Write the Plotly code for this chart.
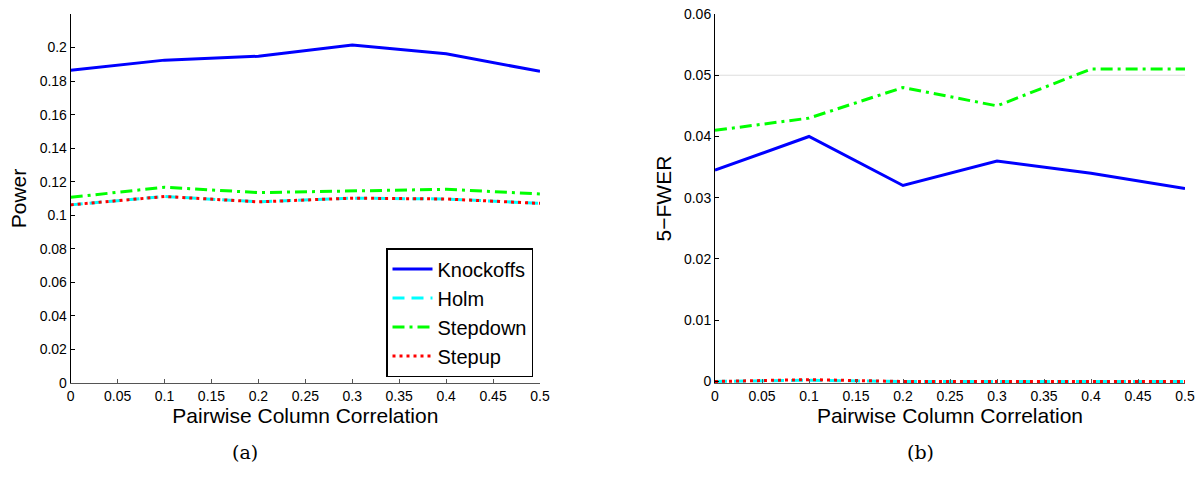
import plotly.graph_objects as go

# ---- data ----
corr = [0, 0.1, 0.2, 0.3, 0.4, 0.5]

power_knockoffs = [0.1865, 0.1925, 0.1948, 0.2015, 0.1963, 0.1858]
power_holm      = [0.1062, 0.1112, 0.1080, 0.1102, 0.1097, 0.1071]
power_stepdown  = [0.1107, 0.1167, 0.1135, 0.1147, 0.1155, 0.1127]
power_stepup    = [0.1062, 0.1112, 0.1080, 0.1102, 0.1097, 0.1071]

fwer_knockoffs = [0.0345, 0.0400, 0.0320, 0.0360, 0.0340, 0.0315]
fwer_holm      = [0.0, 0.0002, 0.0, 0.0, 0.0, 0.0]
fwer_stepdown  = [0.0410, 0.0430, 0.0480, 0.0450, 0.0510, 0.0510]
fwer_stepup    = [0.0, 0.0003, 0.0, 0.0, 0.0, 0.0]

fwer_target = 0.05

series_names = ["Knockoffs", "Holm", "Stepdown", "Stepup"]

x_ticks = [0, 0.05, 0.1, 0.15, 0.2, 0.25, 0.3, 0.35, 0.4, 0.45, 0.5]
x_ticktext = ["0", "0.05", "0.1", "0.15", "0.2", "0.25", "0.3", "0.35", "0.4", "0.45", "0.5"]
power_ticks = [0, 0.02, 0.04, 0.06, 0.08, 0.1, 0.12, 0.14, 0.16, 0.18, 0.2]
power_ticktext = ["0", "0.02", "0.04", "0.06", "0.08", "0.1", "0.12", "0.14", "0.16", "0.18", "0.2"]
fwer_ticks = [0, 0.01, 0.02, 0.03, 0.04, 0.05, 0.06]
fwer_ticktext = ["0", "0.01", "0.02", "0.03", "0.04", "0.05", "0.06"]

# ---- styles ----
styles = {
    "Knockoffs": dict(color="#0000FF", dash="solid"),
    "Holm": dict(color="#00FFFF", dash="12px,7px"),
    "Stepdown": dict(color="#00FF00", dash="12px,5px,3px,5px"),
    "Stepup": dict(color="#FF0000", dash="3px,4px"),
}
LW = 3

fig = go.Figure()

left = [power_knockoffs, power_holm, power_stepdown, power_stepup]
right = [fwer_knockoffs, fwer_holm, fwer_stepdown, fwer_stepup]

for name, ys in zip(series_names, left):
    st = styles[name]
    fig.add_trace(go.Scatter(x=corr, y=ys, mode="lines", name=name,
                             line=dict(color=st["color"], dash=st["dash"], width=LW),
                             xaxis="x", yaxis="y", showlegend=True))
for name, ys in zip(series_names, right):
    st = styles[name]
    fig.add_trace(go.Scatter(x=corr, y=ys, mode="lines", name=name,
                             line=dict(color=st["color"], dash=st["dash"], width=LW),
                             xaxis="x2", yaxis="y2", showlegend=False))

W, H = 1199, 496
ydom = [(H - 383) / H, (H - 14) / H]
xdom1 = [70.7 / W, 540 / W]
xdom2 = [715 / W, 1185 / W]

tickfont = dict(family="Liberation Sans, Arial, sans-serif", size=14, color="black")
titlefont = dict(family="Liberation Sans, Arial, sans-serif", size=21, color="black")

common_x = dict(range=[0, 0.5], tickvals=x_ticks, ticktext=x_ticktext, ticks="inside",
                ticklen=4, tickcolor="#555555", showline=True, linecolor="#555555", linewidth=1,
                showgrid=False, zeroline=False, tickfont=tickfont, automargin=False,
                title=dict(text="Pairwise Column Correlation", font=titlefont, standoff=3))
common_y = dict(ticks="inside", ticklen=4, tickcolor="black", showline=True, linecolor="black",
                linewidth=1, showgrid=False, zeroline=False, tickfont=tickfont, automargin=False)

fig.update_layout(
    width=W, height=H, autosize=False,
    margin=dict(l=0, r=0, t=0, b=0, pad=0, autoexpand=False),
    paper_bgcolor="white", plot_bgcolor="white",
    xaxis=dict(domain=xdom1, anchor="y", **common_x),
    yaxis=dict(domain=ydom, anchor="x", range=[0, 0.22], tickvals=power_ticks,
               ticktext=power_ticktext, title=dict(text="Power", font=titlefont, standoff=7),
               **common_y),
    xaxis2=dict(domain=xdom2, anchor="y2", **common_x),
    yaxis2=dict(domain=ydom, anchor="x2", range=[-0.00025, 0.06], tickvals=fwer_ticks,
                ticktext=fwer_ticktext, title=dict(text="5\u2212FWER", font=titlefont, standoff=6),
                **common_y),
    legend=dict(x=533 / W, y=(H - 377) / H, xanchor="right", yanchor="bottom",
                bgcolor="white", bordercolor="black", borderwidth=1.5,
                font=dict(family="Liberation Sans, Arial, sans-serif", size=20, color="black"),
                tracegroupgap=0, itemwidth=40),
    shapes=[dict(type="line", xref="x2 domain", yref="y2", x0=0, x1=1,
                 y0=fwer_target, y1=fwer_target, line=dict(color="#DDDDDD", width=1),
                 layer="below")],
    annotations=[
        dict(text="(a)", xref="paper", yref="paper", x=245 / W, y=(H - 452) / H,
             xanchor="center", yanchor="middle", showarrow=False,
             font=dict(family="DejaVu Serif, Liberation Serif, serif", size=19, color="black")),
        dict(text="(b)", xref="paper", yref="paper", x=920 / W, y=(H - 452) / H,
             xanchor="center", yanchor="middle", showarrow=False,
             font=dict(family="DejaVu Serif, Liberation Serif, serif", size=19, color="black")),
    ],
)

fig.write_html("out.html", config={"responsive": False})
